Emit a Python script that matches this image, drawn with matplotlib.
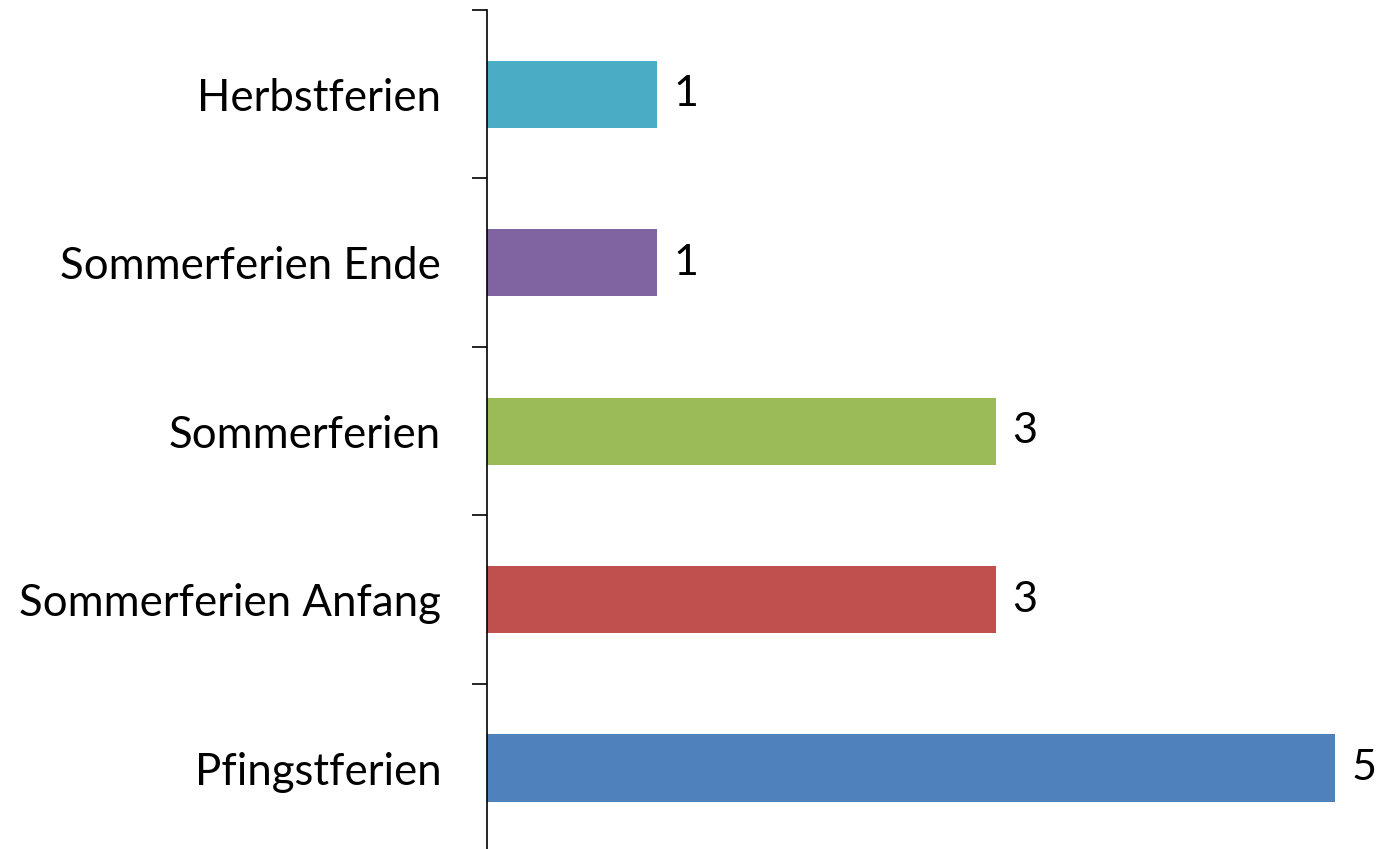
import matplotlib
matplotlib.use("Agg")
import matplotlib.pyplot as plt

categories = ["Pfingstferien", "Sommerferien Anfang", "Sommerferien",
              "Sommerferien Ende", "Herbstferien"]
values = [5, 3, 3, 1, 1]
colors = ["#4F81BD", "#C0504D", "#9BBB59", "#8064A2", "#4BACC6"]

plt.rcParams['font.family'] = ['Lato', 'DejaVu Sans']

fig = plt.figure(figsize=(13.78, 8.49), dpi=100)
ax = fig.add_axes([487 / 1378, -0.004, 1 - 487 / 1378, 0.9922])

pos = list(range(len(categories)))
bars = ax.barh(pos, values, height=0.40, color=colors)

for b, v in zip(bars, values):
    ax.text(b.get_width() + 0.1, b.get_y() + b.get_height() / 2, str(v),
            va="center", ha="left", fontsize=31)

ax.set_ylim(-0.5, len(categories) - 0.5)
ax.set_xlim(0, (1378 - 487) / 169.5)

ax.set_yticks(pos)
ax.set_yticklabels(categories, fontsize=31.5)
ax.set_yticks([p - 0.5 for p in pos] + [len(pos) - 0.5], minor=True)
ax.tick_params(axis="y", which="major", length=0, pad=33)
ax.tick_params(axis="y", which="minor", length=11, width=1.2, direction="out")
ax.set_xticks([])

for s in ["top", "right", "bottom"]:
    ax.spines[s].set_visible(False)
ax.spines["left"].set_linewidth(1.2)

fig.savefig("out.png", dpi=100)
